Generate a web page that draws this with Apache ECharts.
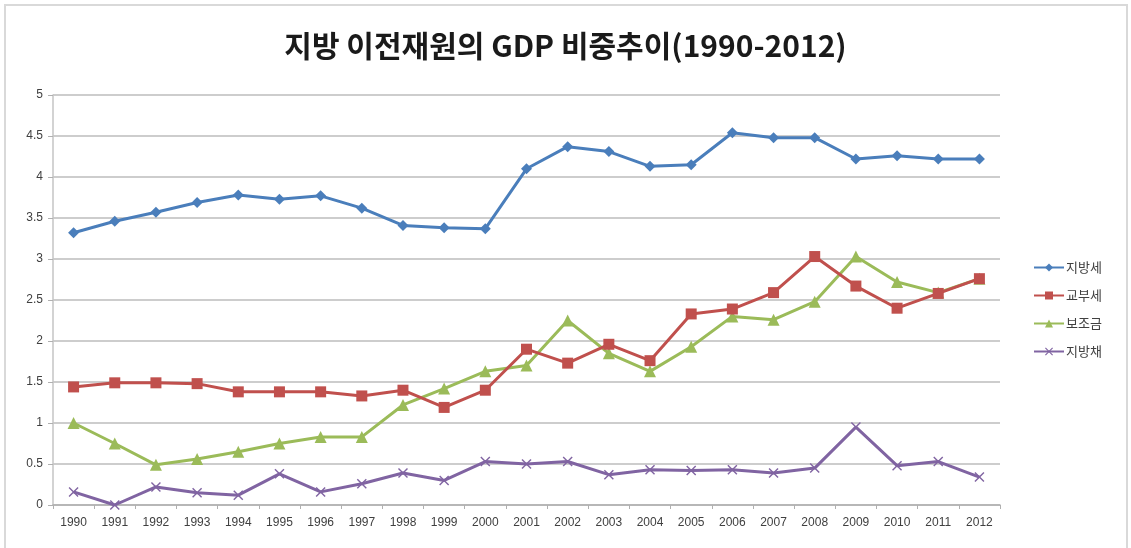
<!DOCTYPE html>
<html>
<head>
<meta charset="utf-8">
<script src="https://cdn.jsdelivr.net/npm/echarts@6/dist/echarts.min.js"></script>
<style>
  html, body { margin: 0; padding: 0; background: #ffffff; }
  #chart { width: 1131px; height: 548px; }
</style>
</head>
<body>
<div id="chart"></div>
<script>
// Years on the category axis
const years = ['1990','1991','1992','1993','1994','1995','1996','1997','1998','1999','2000',
               '2001','2002','2003','2004','2005','2006','2007','2008','2009','2010','2011','2012'];

// Share of GDP (%) for each revenue source
const localTax   = [3.32, 3.46, 3.57, 3.69, 3.78, 3.73, 3.77, 3.62, 3.41, 3.38, 3.37,
                    4.10, 4.37, 4.31, 4.13, 4.15, 4.54, 4.48, 4.48, 4.22, 4.26, 4.22, 4.22];
const grantTax   = [1.44, 1.49, 1.49, 1.48, 1.38, 1.38, 1.38, 1.33, 1.40, 1.19, 1.40,
                    1.90, 1.73, 1.96, 1.76, 2.33, 2.39, 2.59, 3.03, 2.67, 2.40, 2.58, 2.76];
const subsidy    = [1.00, 0.75, 0.49, 0.56, 0.65, 0.75, 0.83, 0.83, 1.22, 1.42, 1.63,
                    1.70, 2.25, 1.85, 1.63, 1.93, 2.30, 2.26, 2.48, 3.03, 2.72, 2.59, 2.76];
const localBond  = [0.16, 0.00, 0.22, 0.15, 0.12, 0.38, 0.16, 0.26, 0.39, 0.30, 0.53,
                    0.50, 0.53, 0.37, 0.43, 0.42, 0.43, 0.39, 0.45, 0.95, 0.48, 0.53, 0.34];

const seriesNames = ['지방세', '교부세', '보조금', '지방채'];
const yTicks = [0, 0.5, 1, 1.5, 2, 2.5, 3, 3.5, 4, 4.5, 5];

const colors = ['#4a7ebb', '#c0504d', '#9bbb59', '#8064a2'];
const crossSymbol = 'path://M0,1L1,0L5,4L9,0L10,1L6,5L10,9L9,10L5,6L1,10L0,9L4,5Z';
const symbols = ['diamond', 'rect', 'triangle', crossSymbol];
const symbolSizes = [11, 11, 12, 10];
const dataSets = [localTax, grantTax, subsidy, localBond];

const chart = echarts.init(document.getElementById('chart'), null, { renderer: 'canvas' });

chart.setOption({
  backgroundColor: '#ffffff',
  animation: false,
  graphic: [{
    type: 'rect',
    shape: { x: 5, y: 5, width: 1122, height: 580 },
    style: { fill: 'none', stroke: '#d9d9d9', lineWidth: 2 },
    silent: true
  }],
  title: {
    text: '지방 이전재원의 GDP 비중추이(1990-2012)',
    left: 'center',
    top: 26,
    textStyle: {
      fontFamily: '"Noto Sans CJK KR", sans-serif',
      fontSize: 30,
      fontWeight: 'bold',
      color: '#1a1a1a'
    }
  },
  legend: {
    orient: 'vertical',
    left: 1028,
    top: 256,
    itemGap: 15,
    itemWidth: 30,
    itemHeight: 10,
    data: seriesNames,
    textStyle: {
      fontFamily: '"Noto Sans CJK KR", sans-serif',
      fontSize: 13,
      color: '#404040',
      padding: [0, 0, 0, -3]
    }
  },
  grid: {
    left: 53,
    top: 95,
    width: 947,
    height: 410,
    containLabel: false
  },
  xAxis: {
    type: 'category',
    data: years,
    boundaryGap: true,
    axisLine: { lineStyle: { color: '#b0b0b0', width: 1.5 } },
    axisTick: { show: true, length: 4, lineStyle: { color: '#b0b0b0' } },
    axisLabel: {
      interval: 0,
      margin: 12,
      fontFamily: '"Liberation Sans", sans-serif',
      fontSize: 12,
      color: '#404040'
    }
  },
  yAxis: {
    type: 'value',
    min: yTicks[0],
    max: yTicks[yTicks.length - 1],
    interval: 0.5,
    axisLine: { show: true, lineStyle: { color: '#c4c4c4', width: 1.5 } },
    axisTick: { show: true, length: 5, lineStyle: { color: '#b0b0b0' } },
    axisLabel: {
      margin: 10,
      fontFamily: '"Liberation Sans", sans-serif',
      fontSize: 12,
      color: '#404040'
    },
    splitLine: { lineStyle: { color: '#bdbdbd', width: 1.5 } }
  },
  series: seriesNames.map((name, i) => ({
    name: name,
    type: 'line',
    data: dataSets[i],
    symbol: symbols[i],
    symbolSize: symbolSizes[i],
    showAllSymbol: true,
    lineStyle: { color: colors[i], width: 3 },
    itemStyle: { color: colors[i] },
    z: 10 - i
  }))
});
</script>
</body>
</html>
